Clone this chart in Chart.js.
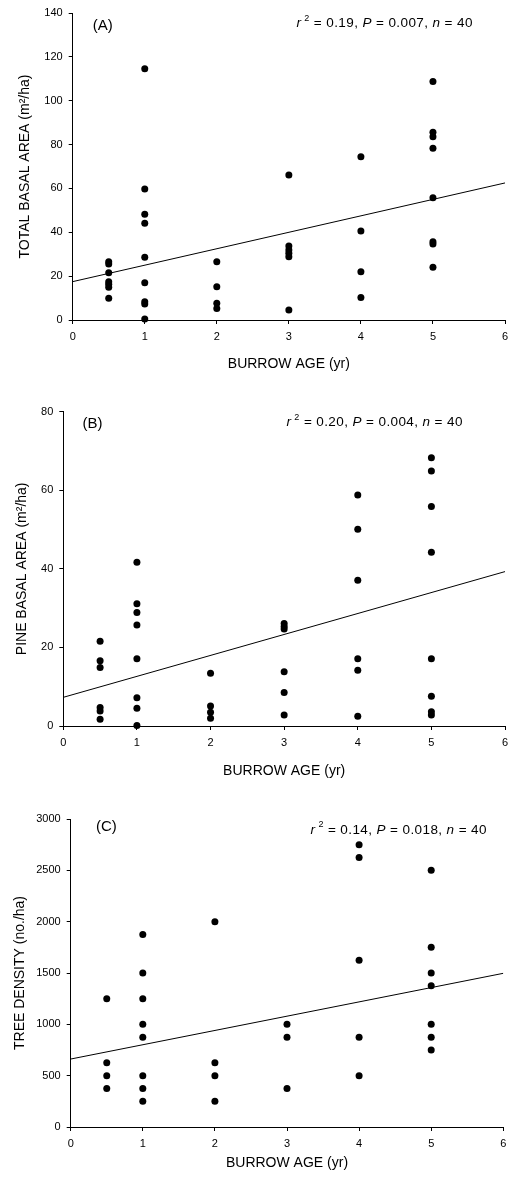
<!DOCTYPE html>
<html><head><meta charset="utf-8">
<script src="https://cdn.jsdelivr.net/npm/chart.js@4"></script>
<style>
html,body{margin:0;padding:0;background:#fff;}
body{width:517px;height:1181px;position:relative;overflow:hidden;}
canvas{position:absolute;left:0;}
</style></head><body>
<canvas id="cA" width="517" height="380" style="top:0px"></canvas>
<canvas id="cB" width="517" height="395" style="top:390px"></canvas>
<canvas id="cC" width="517" height="391" style="top:790px"></canvas>
<script>
// ---- data ----
const ageA = [0.5,0.5,0.5,0.5,0.5,0.5,0.5, 1,1,1,1,1,1,1,1,1, 2,2,2,2, 3,3,3,3,3,3, 4,4,4,4, 5,5,5,5,5,5,5,5];
const totalBasalArea = [26.6,25.5,21.6,17.5,16.3,14.9,9.9, 114.6,59.7,48.2,44.1,28.6,17.0,8.3,7.3,0.5, 26.6,15.2,7.6,5.3, 66.1,33.7,31.9,30.4,28.9,4.6, 74.5,40.6,22.0,10.3, 108.8,85.6,83.6,78.3,55.8,35.7,34.7,24.0];

const ageB = [0.5,0.5,0.5,0.5,0.5,0.5, 1,1,1,1,1,1,1,1, 2,2,2,2, 3,3,3,3,3,3, 4,4,4,4,4,4, 5,5,5,5,5,5,5,5];
const pineBasalArea = [21.6,16.6,14.9,4.7,3.8,1.7, 41.7,31.1,28.9,25.7,17.1,7.2,4.5,0.1, 13.4,5.1,3.5,2.0, 26.1,25.3,24.7,13.8,8.5,2.8, 58.8,50.1,37.1,17.1,14.2,2.5, 68.3,64.9,55.9,44.2,17.1,7.6,3.6,2.8];

const ageC = [0.5,0.5,0.5,0.5, 1,1,1,1,1,1,1,1, 2,2,2,2, 3,3,3, 4,4,4,4,4, 5,5,5,5,5,5,5];
const treeDensity = [1250,625,500,375, 1875,1500,1250,1000,875,500,375,250, 2000,625,500,250, 1000,875,375, 2750,2625,1625,875,500, 2500,1750,1500,1375,1000,875,750];

// regression line end points (x = 0 and x = 6)
const fitAge = [0, 6];
const fitA = [17.5, 62.5];
const fitB = [7.3, 39.3];
const fitC = [662, 1497];

const panelLabels = ['(A)', '(B)', '(C)'];
const r2Values = ['0.19', '0.20', '0.14'];
const pValues = ['0.007', '0.004', '0.018'];
const nValues = ['40', '40', '40'];
const yTitles = ['TOTAL BASAL AREA (m\u00B2/ha)', 'PINE BASAL AREA (m\u00B2/ha)', 'TREE DENSITY (no./ha)'];
const xTitle = 'BURROW AGE (yr)';
const yMax = [140, 80, 3000];
const yStep = [20, 20, 500];

// ---- drawing ----
const FONT = '"Liberation Sans", Arial, Helvetica, sans-serif';
Chart.defaults.font.family = FONT;
Chart.defaults.color = '#000';

const annotate = {
  id: 'annotate',
  afterDraw(chart) {
    const o = chart.options.plugins.annotate;
    const {ctx, scales} = chart;
    ctx.save();
    ctx.fillStyle = '#000';
    ctx.textBaseline = 'middle';
    ctx.font = '15px ' + FONT;
    ctx.textAlign = 'left';
    ctx.fillText(o.label, scales.x.getPixelForValue(o.labelPos[0]), scales.y.getPixelForValue(o.labelPos[1]));
    const segs = [
      {t: 'r', f: 'italic 13.5px ' + FONT},
      {t: ' 2', f: '9px ' + FONT, dy: -5},
      {t: ' = ' + o.r2 + ', ', f: '13.5px ' + FONT},
      {t: 'P', f: 'italic 13.5px ' + FONT},
      {t: ' = ' + o.p + ', ', f: '13.5px ' + FONT},
      {t: 'n', f: 'italic 13.5px ' + FONT},
      {t: ' = ' + o.n, f: '13.5px ' + FONT}
    ];
    ctx.letterSpacing = '0.4px';
    let total = 0;
    segs.forEach(s => { ctx.font = s.f; s.w = ctx.measureText(s.t).width; total += s.w; });
    let x = scales.x.getPixelForValue(o.statPos[0]) - total / 2;
    const y = scales.y.getPixelForValue(o.statPos[1]);
    segs.forEach(s => { ctx.font = s.f; ctx.fillText(s.t, x, y + (s.dy || 0)); x += s.w; });
    ctx.restore();
  }
};

function makePanel(id, xs, ys, fitYs, i, L) {
  const pts = xs.map((x, k) => ({x: x, y: ys[k]}));
  const fit = fitAge.map((x, k) => ({x: x, y: fitYs[k]}));
  return new Chart(document.getElementById(id), {
    type: 'scatter',
    data: {
      datasets: [
        {data: pts, backgroundColor: '#000', borderWidth: 0, pointRadius: 3.5, clip: false},
        {type: 'line', data: fit, borderColor: '#000', borderWidth: 1, pointRadius: 0, fill: false, showLine: true}
      ]
    },
    options: {
      responsive: false,
      animation: false,
      events: [],
      layout: {padding: {left: 0, right: L.right, top: L.top, bottom: 0}},
      plugins: {
        legend: {display: false},
        tooltip: {enabled: false},
        annotate: {label: panelLabels[i], r2: r2Values[i], p: pValues[i], n: nValues[i], labelPos: L.labelPos, statPos: L.statPos}
      },
      scales: {
        x: {
          type: 'linear', min: 0, max: 6,
          ticks: {stepSize: 1, color: '#000', font: {size: 11}, padding: 6, maxRotation: 0},
          grid: {drawOnChartArea: false, drawTicks: true, tickLength: 4, color: '#000', lineWidth: 1},
          border: {display: true, color: '#000', width: 1},
          title: {display: true, text: xTitle, color: '#000', font: {size: 14}, padding: {top: 0, bottom: L.xTitlePad}},
          afterFit: s => { s.height = L.xHeight; }
        },
        y: {
          type: 'linear', min: 0, max: yMax[i],
          ticks: {stepSize: yStep[i], color: '#000', font: {size: 11}, padding: 6, format: {useGrouping: false}},
          grid: {drawOnChartArea: false, drawTicks: true, tickLength: 4, color: '#000', lineWidth: 1},
          border: {display: true, color: '#000', width: 1},
          title: {display: true, text: yTitles[i], color: '#000', font: {size: 14}, padding: {top: L.yTitlePad, bottom: 0}},
          afterFit: s => { s.width = L.yWidth; }
        }
      }
    },
    plugins: [annotate]
  });
}

makePanel('cA', ageA, totalBasalArea, fitA, 0,
  {right: 12, top: 13, xHeight: 60, yWidth: 72.7, xTitlePad: 7.5, yTitlePad: 17.2, labelPos: [0.28, 134.1], statPos: [4.33, 135.3]});
makePanel('cB', ageB, pineBasalArea, fitB, 1,
  {right: 12, top: 21.7, xHeight: 59, yWidth: 63.3, xTitlePad: 5.5, yTitlePad: 13.9, labelPos: [0.26, 76.9], statPos: [4.23, 77.2]});
makePanel('cC', ageC, treeDensity, fitC, 2,
  {right: 13.7, top: 29, xHeight: 54, yWidth: 70.7, xTitlePad: 9, yTitlePad: 12.2, labelPos: [0.35, 2925], statPos: [4.55, 2893]});
</script>
</body></html>
